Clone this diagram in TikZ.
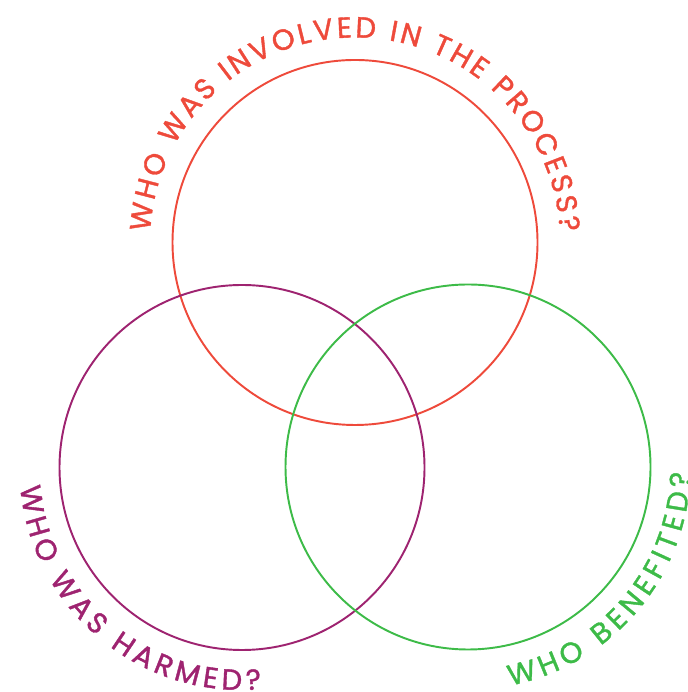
\documentclass[tikz,border=0pt]{standalone}
\usepackage{fontspec}
\usetikzlibrary{decorations.text}
\newfontfamily\venfont[FakeBold=1.3]{Poppins}
\definecolor{involvedred}{HTML}{EE4A3B}
\definecolor{harmedpurple}{HTML}{9E2370}
\definecolor{benefitgreen}{HTML}{3DBB48}
\tikzset{ring/.style = {circle, draw=#1, line width=1.1pt, minimum size=7.3cm, inner sep=0pt},
  arclabel/.style = {decorate, decoration={text along path, text align=fit to path, text={#1}}}}
\newcommand{\lab}[1]{|\venfont\fontsize{16.5}{19}\selectfont\color{#1}|}

\begin{document}
\begin{tikzpicture}
      \useasboundingbox (0,0) rectangle (13.74,13.84);
      \node[ring=involvedred] (involved) at (7.10,8.99) {};
      \node[ring=harmedpurple] (harmed) at (4.84,4.49) {};
      \node[ring=benefitgreen] (benefited) at (9.36,4.50) {};
      % labels round the rings
      \path[arclabel={\lab{involvedred}WHO WAS INVOLVED IN THE PROCESS?}]
        (involved.center) ++(177:4.10) arc[start angle=177, end angle=3, radius=4.10];
      \path[arclabel={\lab{harmedpurple}WHO WAS HARMED?}]
        (harmed.center) ++(185:4.45) arc[start angle=185, end angle=275, radius=4.45];
      \path[arclabel={\lab{benefitgreen}WHO BENEFITED?}]
        (benefited.center) ++(281:4.45) arc[start angle=281, end angle=358.5, radius=4.45];
    \end{tikzpicture}
\end{document}
